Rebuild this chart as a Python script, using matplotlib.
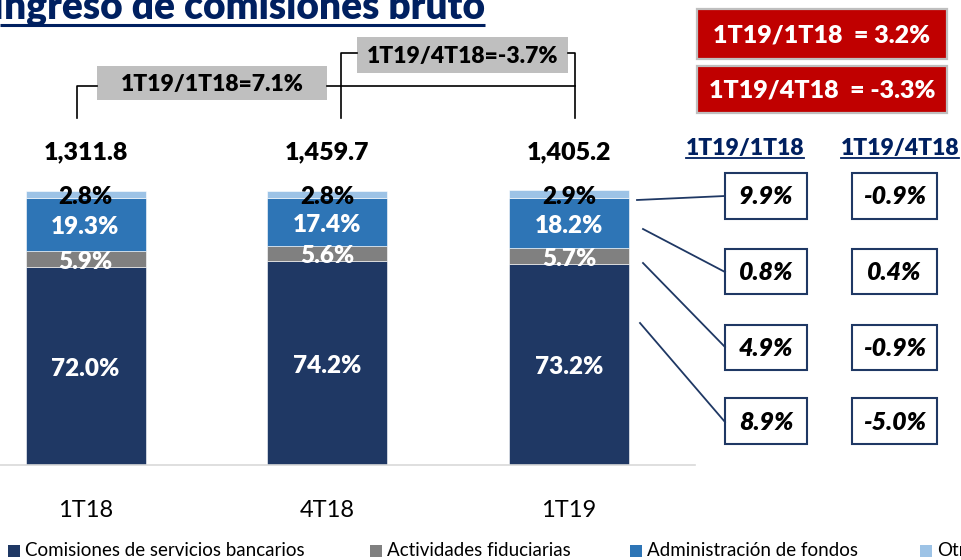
import matplotlib
matplotlib.use("Agg")
import matplotlib.pyplot as plt
from matplotlib.patches import Rectangle
import numpy as np

plt.rcParams['font.family'] = ['Lato', 'DejaVu Sans']
PESO = "heavy"

# composición del ingreso por comisiones (% del total)
trimestres = ["1T18", "4T18", "1T19"]
servicios = [72.0, 74.2, 73.2]
fiduciarias = [5.9, 5.6, 5.7]
fondos = [19.3, 17.4, 18.2]
otros = [2.8, 2.8, 2.9]
totales = [1311.8, 1459.7, 1405.2]

series = ["Comisiones de servicios bancarios", "Actividades fiduciarias",
          "Administración de fondos", "Otros"]
colores = ["#1F3864", "#808080", "#2E75B6", "#9DC3E6"]
color_texto = ["white", "white", "white", "black"]

# variaciones por rubro (orden: otros, fondos, fiduciarias, servicios)
var_anual = [9.9, 0.8, 4.9, 8.9]
var_trim = [-0.9, 0.4, -0.9, -5.0]
var_neta = [("1T19/1T18", 3.2), ("1T19/4T18", -3.3)]

W, H = 961, 560
fig = plt.figure(figsize=(W / 100, H / 100), dpi=100)

# ejes de barras: px 0..695 en x, px 465 (base) hasta 0 en y
px_unit = 241.7
x0 = -85.5 / px_unit
x1 = (695 - 85.5) / px_unit
y_px = 2.745
ax = fig.add_axes([0, (H - 465) / H, 695 / W, 465 / H])
ax.set_xlim(x0, x1)
ax.set_ylim(0, 465 / y_px)

x = np.arange(len(trimestres))
capas = [servicios, fiduciarias, fondos, otros]
base = np.zeros(len(x))
for valores, color, tc in zip(capas, colores, color_texto):
    valores = np.array(valores)
    ax.bar(x, valores, bottom=base, width=120 / px_unit, color=color,
           edgecolor="white", linewidth=0.4, zorder=2)
    for xi, b, v in zip(x, base, valores):
        ax.text(xi, b + v / 2 - 0.9, f"{v:.1f}%", ha="center", va="center",
                fontsize=17.5, fontweight=PESO, color=tc, zorder=3)
    base = base + valores

for xi, t in zip(x, totales):
    ax.text(xi, 114, f"{t:,.1f}", ha="center", va="center",
            fontsize=18, fontweight=PESO, color="black")

for s in ["top", "right", "left"]:
    ax.spines[s].set_visible(False)
ax.spines["bottom"].set_color("#D9D9D9")
ax.spines["bottom"].set_linewidth(1.2)
ax.set_yticks([])
ax.set_xticks(x)
ax.set_xticklabels(trimestres, fontsize=17)
ax.tick_params(axis="x", length=0, pad=25)

# capa de anotaciones en coordenadas de pixel
ann = fig.add_axes([0, 0, 1, 1], zorder=5)
ann.set_xlim(0, W)
ann.set_ylim(H, 0)
ann.axis("off")
ann.patch.set_alpha(0)

navy_titulo = "#002060"
ann.text(485, 18, "Ingreso de comisiones bruto", ha="right", va="baseline",
         fontsize=28, fontweight=PESO, color=navy_titulo)
ann.plot([0, 485], [25, 25], color=navy_titulo, lw=2.2, solid_capstyle="butt")

# llaves de variación del total
lw_k = 1.2
var_a = (totales[2] / totales[0] - 1) * 100
var_t = (totales[2] / totales[1] - 1) * 100
ann.plot([77, 77, 97], [118, 86, 86], color="black", lw=lw_k)
ann.plot([327, 575], [86, 86], color="black", lw=lw_k)
ann.plot([341, 341, 357], [118, 53, 53], color="black", lw=lw_k)
ann.plot([568, 575, 575], [53, 53, 118], color="black", lw=lw_k)
ann.add_patch(Rectangle((97, 66), 230, 34, facecolor="#BFBFBF", edgecolor="none"))
ann.text(212, 84, f"1T19/1T18={var_a:.1f}%", ha="center", va="center",
         fontsize=16.5, fontweight=PESO)
ann.add_patch(Rectangle((357, 37), 211, 36, facecolor="#BFBFBF", edgecolor="none"))
ann.text(462.5, 56, f"1T19/4T18={var_t:.1f}%", ha="center", va="center",
         fontsize=16.5, fontweight=PESO)

# recuadros rojos
for (et, v), (yt, yb) in zip(var_neta, [(9, 59), (66, 113)]):
    ann.add_patch(Rectangle((697, yt), 250, yb - yt, facecolor="#C00000",
                            edgecolor="#BFBFBF", lw=1.6))
    ann.text(822, (yt + yb) / 2 + 1, f"{et}  = {v:.1f}%", ha="center", va="center",
             fontsize=18, fontweight=PESO, color="white")

# encabezados de columnas
navy = "#1F3864"
for cx, et in [(745, "1T19/1T18"), (900, "1T19/4T18")]:
    ann.text(cx, 148, et, ha="center", va="center", fontsize=16.5,
             fontweight=PESO, color=navy_titulo)
    ann.plot([cx - 59, cx + 59], [157.5, 157.5], color=navy_titulo, lw=1.3)

# recuadros de variación por rubro
filas = [(173, 219), (249, 294), (325, 370), (398, 444)]
for (yt, yb), va_, vt_ in zip(filas, var_anual, var_trim):
    for xl, xr, v in [(725, 807, va_), (852, 937, vt_)]:
        ann.add_patch(Rectangle((xl, yt), xr - xl, yb - yt, facecolor="white",
                                edgecolor=navy, lw=1.5))
        ann.text((xl + xr) / 2, (yt + yb) / 2 + 1, f"{v:.1f}%", ha="center",
                 va="center", fontsize=18, fontweight=PESO, style="italic")

# conectores desde la barra 1T19
conectores = [((637, 200), (725, 196)), ((643, 229), (725, 272)),
              ((643, 263), (725, 347)), ((640, 323), (725, 422))]
for (xa, ya), (xb, yb) in conectores:
    ann.plot([xa, xb], [ya, yb], color=navy, lw=1.3)

# leyenda
leg_x = [8, 370, 630, 920]
for lx, nombre, c in zip(leg_x, series, colores):
    ann.add_patch(Rectangle((lx, 545), 12, 12, facecolor=c, edgecolor="none"))
    ann.text(lx + 17, 551, nombre, ha="left", va="center", fontsize=13.5, color="black")

fig.savefig("out.png", dpi=100)
